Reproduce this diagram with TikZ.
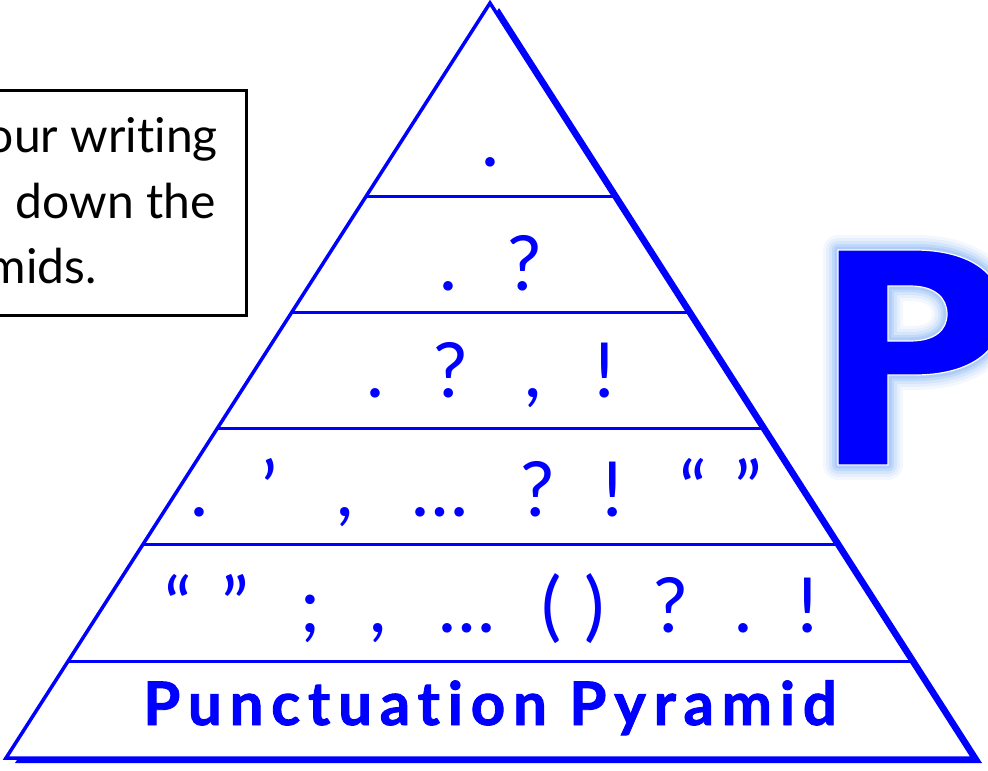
\documentclass[tikz,border=0pt]{standalone}
\usepackage{fontspec}
\setmainfont{Lato}[Ligatures=NoCommon]
\usetikzlibrary{calc,positioning}
\definecolor{PyrBlue}{RGB}{0,0,255}
\definecolor{GlowBlue}{RGB}{150,190,245}

\begin{document}
\begin{tikzpicture}[x=1pt,y=-1pt,
    punct/.style={text=PyrBlue,font=\fontsize{76}{76}\selectfont,anchor=base,inner sep=0pt},
    boxtext/.style={font=\fontsize{48}{48}\selectfont,anchor=base east,inner sep=0pt},
    tier/.style={PyrBlue,line width=3pt},
    bigP/.style={insert path={(838,250) -- (915,250) .. controls (962,250) and (1002,268) .. (1003,312)
      .. controls (1002,355) and (965,375) .. (915,375) -- (888,375) -- (888,465) -- (838,465) -- cycle
      (888,286) -- (910,286) .. controls (935,286) and (947,298) .. (947,314)
      .. controls (947,330) and (935,341) .. (910,341) -- (888,341) -- cycle}}]
  \useasboundingbox (0,0) rectangle (988,771);
  \clip (0,0) rectangle (988,771);
  \foreach \w/\o in {30/.1,24/.15,18/.22,12/.32,7/.45}
    \draw[GlowBlue,opacity=\o,line width=\w pt,line join=round,bigP];
  \fill[PyrBlue,even odd rule,bigP];
  \draw[white,line width=1.2pt,bigP];

  \coordinate (apex) at (490,3);
  \coordinate (bl) at (6,758);
  \coordinate (br) at (973,758);
  \fill[PyrBlue] ([shift={(9,5)}]apex) -- ([shift={(9,5)}]br) -- ([shift={(9,5)}]bl) -- cycle;
  \filldraw[fill=white,draw=PyrBlue,line width=3.5pt] (apex) -- (br) -- (bl) -- cycle;
  \foreach \yy in {197,312,428,544,662}
    \draw[tier] ($(apex)!{(\yy-3)/755}!(bl)$) -- ($(apex)!{(\yy-3)/755}!(br)$);

  \node[punct] (r1-1) at (490,166) {.};
  \foreach \x/\c [count=\i] in {448/., 524/?}
    \node[punct] (r2-\i) at (\x,290) {\c};
  \foreach \x/\c [count=\i] in {375/., 450/?, 533/{,}, 605/!}
    \node[punct] (r3-\i) at (\x,397) {\c};
  \foreach \x/\c [count=\i] in {199/., 270/’, 345/{,}, 440/{\ldots}, 537/?, 613/!, 693/“, 748/”}
    \node[punct] (r4-\i) at (\x,516) {\c};
  \foreach \x/\c [count=\i] in {178/“, 235/”, 310/;, 378/{,}, 467/{\ldots}, 552/{(}, 595/{)}, 670/?, 743/., 808/!}
    \node[punct] (r5-\i) at (\x,632) {\c};
  \node[text=PyrBlue,font=\fontsize{60}{60}\selectfont\bfseries\addfontfeatures{LetterSpace=13,FakeBold=1.5},
    anchor=base,inner sep=0pt] (title) at (490,725) {Punctuation Pyramid};

  \draw[line width=3pt] (-10,90) rectangle (246,315);
  \node[boxtext] (hint1) at (218,152) {our writing};
  \node[boxtext] (hint2) at (216,218) {down the};
  \node[boxtext] (hint3) at (97,283) {mids.};
\end{tikzpicture}
\end{document}
